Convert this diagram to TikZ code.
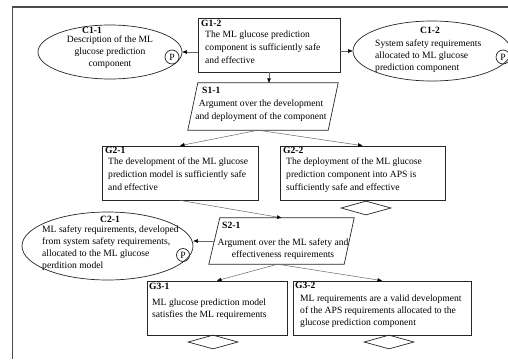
\documentclass[tikz,border=0pt]{standalone}
\usepackage{fontspec}
\setmainfont{Liberation Serif}
\usetikzlibrary{shapes.geometric,arrows.meta,calc}
\begin{document}
\begin{tikzpicture}[x=1pt,y=-1pt,
  outl/.style={draw=black!85,line width=0.7pt},
  box/.style={outl,rectangle,inner sep=0pt},
  ctx/.style={outl,ellipse,inner sep=0pt},
  para/.style={inner sep=0pt},
  undev/.style={outl,diamond,inner sep=0pt,minimum width=50pt,minimum height=14pt},
  pmark/.style={outl,circle,inner sep=0pt,minimum size=14pt,font=\fontsize{9.6}{12}\selectfont},
  lbl/.style={font=\fontsize{9.6}{12}\selectfont\bfseries,inner sep=0pt,anchor=base west},
  clbl/.style={lbl,anchor=base},
  txt/.style={font=\fontsize{9.6}{12}\selectfont,inner sep=0pt,anchor=north west,align=left},
  ctxt/.style={txt,anchor=north,align=center},
  conn/.style={draw=black!60,line width=0.5pt,-{Triangle[length=4.5pt,width=3.5pt,color=black]}},
  frame/.style={draw=black!70,line width=1.2pt}
]
\useasboundingbox (0,0) rectangle (508,359);
\draw[frame] (12.5,359) -- (12.5,7) -- (508,7);

% G1-2
\node[box,minimum width=142pt,minimum height=54pt] (g12) at (269,45) {};
\node[lbl] (g12l) at (201,26) {G1-2};
\node[txt,font=\fontsize{9.6}{13}\selectfont] (g12t) at (205,30.4) {The ML glucose prediction\\component is sufficiently safe\\and effective};

% C1-1
\node[ctx,minimum width=144pt,minimum height=54pt] (c11) at (110,52) {};
\node[clbl] (c11l) at (92,33) {C1-1};
\node[ctxt] (c11t) at (110,35.4) {Description of the ML\\glucose prediction\\component};
\node[pmark] (c11p) at (172,57) {P};

% C1-2
\node[ctx,minimum width=158pt,minimum height=60pt] (c12) at (432,51) {};
\node[clbl] (c12l) at (430,33) {C1-2};
\node[txt] (c12t) at (375,39.4) {System safety requirements\\allocated to ML glucose\\prediction component};
\node[pmark] (c12p) at (503,57) {P};

% S1-1
\node[para,minimum width=150pt,minimum height=47pt] (s11) at (263,106.5) {};
\draw[outl] (s11.south west) -- ($(s11.north west)+(10,0)$) -- (s11.north east) -- ($(s11.south east)+(-10,0)$) -- cycle;
\node[lbl] (s11l) at (202,93) {S1-1};
\node[ctxt,font=\fontsize{9.6}{13}\selectfont] (s11t) at (261,99.4) {Argument over the development\\and deployment of the component};

% G2-1
\node[box,minimum width=156pt,minimum height=54pt] (g21) at (180,173) {};
\node[lbl] (g21l) at (105,153.5) {G2-1};
\node[txt,font=\fontsize{9.6}{13}\selectfont] (g21t) at (108,157.9) {The development of the ML glucose\\prediction model is sufficiently safe\\and effective};

% G2-2
\node[box,minimum width=165pt,minimum height=54pt] (g22) at (362.5,173) {};
\node[lbl] (g22l) at (283,153.5) {G2-2};
\node[txt,font=\fontsize{9.6}{13}\selectfont] (g22t) at (286,157.9) {The deployment of the ML glucose\\prediction component into APS is\\sufficiently safe and effective};
\node[undev] (d22) at (366,208) {};

% S2-1
\node[para,minimum width=145pt,minimum height=46pt] (s21) at (281.5,241) {};
\draw[outl] (s21.south west) -- ($(s21.north west)+(11,0)$) -- (s21.north east) -- ($(s21.south east)+(-10,0)$) -- cycle;
\node[lbl] (s21l) at (222,228) {S2-1};
\node[ctxt] (s21t) at (283,238.4) {Argument over the ML safety and\\effectiveness requirements};

% C2-1
\node[ctx,minimum width=171pt,minimum height=68pt] (c21) at (107.5,246) {};
\node[clbl] (c21l) at (110,222) {C2-1};
\node[txt] (c21t) at (42,225.4) {ML safety requirements, developed\\from system safety requirements,\\allocated to the ML glucose\\perdition model};
\node[pmark,minimum size=13pt] (c21p) at (183,255) {P};

% G3-1
\node[box,minimum width=140pt,minimum height=54pt] (g31) at (217,308) {};
\node[lbl] (g31l) at (149,289) {G3-1};
\node[txt] (g31t) at (152,298.4) {ML glucose prediction model\\satisfies the ML requirements};
\node[undev] (d31) at (213,342) {};

% G3-2
\node[box,minimum width=178pt,minimum height=54pt] (g32) at (382,308) {};
\node[lbl] (g32l) at (295,288) {G3-2};
\node[txt] (g32t) at (300,294.4) {ML requirements are a valid development\\of the APS requirements allocated to the\\glucose prediction component};
\node[undev] (d32) at (389,342) {};

% connectors
\draw[conn] (g12.west |- c11.east) -- (c11.east);
\draw[conn] (g12.east |- c12.west) -- (c12.west);
\draw[conn] (g12.south) -- (g12.south |- s11.north);
\coordinate (s11b) at ($(s11.south)+(-5,0)$);
\draw[conn] (s11b) -- (g21.north);
\draw[conn] (s11b) -- (g22.north);
\draw[conn] (g21.south) -- (s21.north);
\coordinate (s21w) at ($(s21.west)+(5.5,0)$);
\draw[conn] (s21w) -- (c21.east |- s21w);
\coordinate (s21b) at ($(s21.south)+(-4,0)$);
\draw[conn] (s21b) -- (g31.north);
\draw[conn] (s21b) -- (g32.north);
\end{tikzpicture}
\end{document}
